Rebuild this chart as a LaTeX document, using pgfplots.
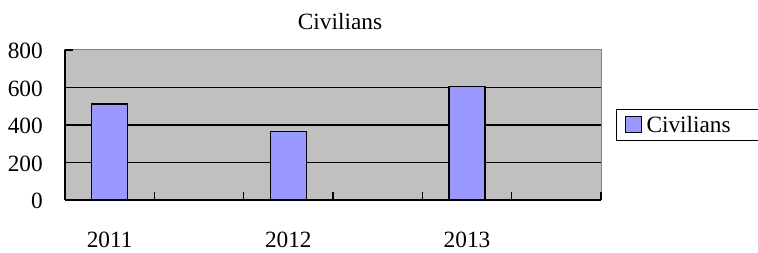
\documentclass[border=0pt]{standalone}
\usepackage{fontspec}
\setmainfont{Liberation Serif}
\usepackage{pgfplots}
\pgfplotsset{compat=1.18}
\definecolor{plotbg}{HTML}{C0C0C0}
\definecolor{barfill}{HTML}{9999FF}
\definecolor{edgegray}{HTML}{808080}
\begin{document}
\begin{tikzpicture}[font=\fontsize{23.3}{27}\selectfont]
\path[use as bounding box] (-65pt,-53pt) rectangle (693pt,200pt);
\begin{axis}[
  at={(0pt,0pt)}, anchor=south west,
  scale only axis, width=536pt, height=150pt,
  xmin=0, xmax=6, ymin=0, ymax=800,
  axis lines*=left,
  axis line style={black, line width=1.3pt},
  axis background/.style={fill=plotbg, draw=edgegray, line width=1pt},
  xtick={0,1,2,3,4,5,6},
  x tick label as interval,
  xticklabels={2011,,2012,,2013,},
  ytick={0,200,400,600,800},
  tick align=inside,
  major tick length=8pt,
  tick style={black, line width=1.2pt},
  extra y ticks={200,400,600},
  extra y tick labels={},
  extra y tick style={ymajorgrids=true},
  major grid style={black, line width=1.2pt},
  /pgf/number format/assume math mode=true,
  yticklabel style={anchor=east, inner sep=0pt, xshift=-22pt, yshift=-1pt},
  xticklabel style={anchor=north, inner sep=0pt, yshift=-32pt},
  title={Civilians},
  title style={at={(0.5,1)}, anchor=base, yshift=14pt, xshift=7pt, inner sep=0pt},
  legend style={at={(rel axis cs:1,0.5)}, anchor=west, xshift=15pt,
    draw=black, line width=1pt, fill=white, inner xsep=8pt, inner ysep=5pt},
  legend image code/.code={\draw[#1, line width=1pt] (0pt,-8pt) rectangle (16pt,8pt);},
  legend cell align=left,
]
\addplot[ybar, bar width=36pt, fill=barfill, draw=black, line width=1.2pt]
  coordinates {(0.5,512) (2.5,364) (4.5,604)};
\addlegendentry{\hspace*{3pt}Civilians\hspace*{40pt}}
\end{axis}
\end{tikzpicture}
\end{document}
